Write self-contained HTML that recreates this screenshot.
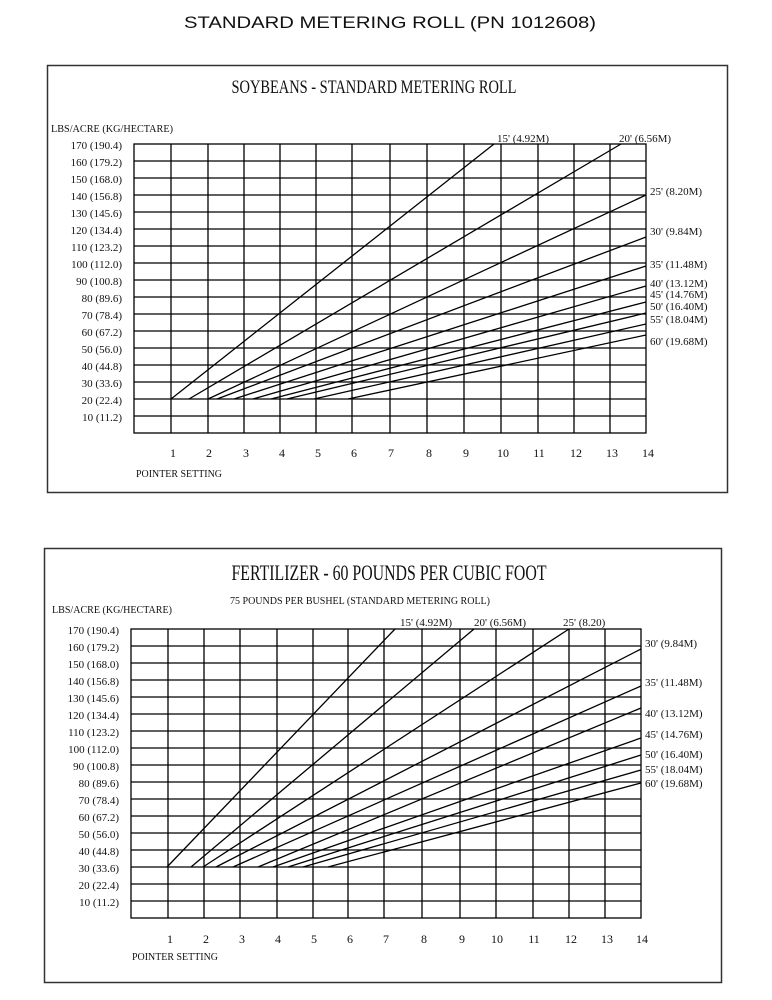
<!DOCTYPE html>
<html><head><meta charset="utf-8"><style>
html,body{margin:0;padding:0;background:#fff;}
svg{display:block;}
text{font-family:"Liberation Serif",serif;fill:#111;}
</style></head><body>
<svg width="772" height="1000" viewBox="0 0 772 1000" xmlns="http://www.w3.org/2000/svg">
<text x="390" y="28" text-anchor="middle" style="font-family:'Liberation Sans',sans-serif;font-size:17px" textLength="412" lengthAdjust="spacingAndGlyphs">STANDARD METERING ROLL  (PN  1012608)</text>

<!-- TOP CHART -->
<rect x="47.5" y="65.5" width="680" height="427" fill="none" stroke="#333" stroke-width="1.5"/>
<text x="374" y="93" text-anchor="middle" font-size="19" textLength="285" lengthAdjust="spacingAndGlyphs">SOYBEANS - STANDARD METERING ROLL</text>
<text x="51" y="132" font-size="11" textLength="122" lengthAdjust="spacingAndGlyphs">LBS/ACRE (KG/HECTARE)</text>
<g stroke="#000" stroke-width="1.3" fill="none">
<rect x="134" y="144" width="512" height="289"/>
<path d="M134 161H646M134 178H646M134 195H646M134 212H646M134 229H646M134 246H646M134 263H646M134 280H646M134 297H646M134 314H646M134 331H646M134 348H646M134 365H646M134 382H646M134 399H646M134 416H646"/>
<path d="M171 144V433M208 144V433M244 144V433M280 144V433M316 144V433M352 144V433M390 144V433M427 144V433M464 144V433M501 144V433M538 144V433M574 144V433M610 144V433"/>
<path d="M171 399L494 144M189 399L621 144M208 399L646 195M217 399L646 237M234 399L646 266M253 399L646 286M271 399L646 302M287 399L646 313M314 399L646 324M348 399L646 335"/>
</g>
<g font-size="11" text-anchor="end">
<text x="122" y="149">170 (190.4)</text><text x="122" y="166">160 (179.2)</text><text x="122" y="183">150 (168.0)</text><text x="122" y="200">140 (156.8)</text><text x="122" y="217">130 (145.6)</text><text x="122" y="234">120 (134.4)</text><text x="122" y="251">110 (123.2)</text><text x="122" y="268">100 (112.0)</text><text x="122" y="285">90 (100.8)</text><text x="122" y="302">80 (89.6)</text><text x="122" y="319">70 (78.4)</text><text x="122" y="336">60 (67.2)</text><text x="122" y="353">50 (56.0)</text><text x="122" y="370">40 (44.8)</text><text x="122" y="387">30 (33.6)</text><text x="122" y="404">20 (22.4)</text><text x="122" y="421">10 (11.2)</text>
</g>
<g font-size="12" text-anchor="middle">
<text x="173" y="457">1</text><text x="209" y="457">2</text><text x="246" y="457">3</text><text x="282" y="457">4</text><text x="318" y="457">5</text><text x="354" y="457">6</text><text x="391" y="457">7</text><text x="429" y="457">8</text><text x="466" y="457">9</text><text x="503" y="457">10</text><text x="539" y="457">11</text><text x="576" y="457">12</text><text x="612" y="457">13</text><text x="648" y="457">14</text>
</g>
<text x="136" y="477" font-size="11" textLength="86" lengthAdjust="spacingAndGlyphs">POINTER SETTING</text>
<g font-size="11">
<text x="497" y="142">15' (4.92M)</text><text x="619" y="142">20' (6.56M)</text>
<text x="650" y="195">25' (8.20M)</text><text x="650" y="235">30' (9.84M)</text><text x="650" y="268">35' (11.48M)</text><text x="650" y="287">40' (13.12M)</text><text x="650" y="298">45' (14.76M)</text><text x="650" y="310">50' (16.40M)</text><text x="650" y="323">55' (18.04M)</text><text x="650" y="345">60' (19.68M)</text>
</g>

<!-- BOTTOM CHART -->
<rect x="44.5" y="548.5" width="677" height="434" fill="none" stroke="#333" stroke-width="1.5"/>
<text x="389" y="580" text-anchor="middle" font-size="22" textLength="315" lengthAdjust="spacingAndGlyphs">FERTILIZER - 60 POUNDS PER CUBIC FOOT</text>
<text x="230" y="604" font-size="10" textLength="260" lengthAdjust="spacingAndGlyphs">75 POUNDS PER BUSHEL (STANDARD METERING ROLL)</text>
<text x="52" y="613" font-size="11" textLength="120" lengthAdjust="spacingAndGlyphs">LBS/ACRE (KG/HECTARE)</text>
<g stroke="#000" stroke-width="1.3" fill="none">
<rect x="131" y="629" width="510" height="289"/>
<path d="M131 646H641M131 663H641M131 680H641M131 697H641M131 714H641M131 731H641M131 748H641M131 765H641M131 782H641M131 799H641M131 816H641M131 833H641M131 850H641M131 867H641M131 884H641M131 901H641"/>
<path d="M168 629V918M204 629V918M240 629V918M277 629V918M313 629V918M348 629V918M384 629V918M422 629V918M460 629V918M496 629V918M533 629V918M569 629V918M605 629V918"/>
<path d="M167 867L395 629M191 867L474 629M203 867L569 629M216 867L641 649M233 867L641 686M258 867L641 708M273 867L641 738M288 867L641 755M303 867L641 770M328 867L641 783"/>
</g>
<g font-size="11" text-anchor="end">
<text x="119" y="634">170 (190.4)</text><text x="119" y="651">160 (179.2)</text><text x="119" y="668">150 (168.0)</text><text x="119" y="685">140 (156.8)</text><text x="119" y="702">130 (145.6)</text><text x="119" y="719">120 (134.4)</text><text x="119" y="736">110 (123.2)</text><text x="119" y="753">100 (112.0)</text><text x="119" y="770">90 (100.8)</text><text x="119" y="787">80 (89.6)</text><text x="119" y="804">70 (78.4)</text><text x="119" y="821">60 (67.2)</text><text x="119" y="838">50 (56.0)</text><text x="119" y="855">40 (44.8)</text><text x="119" y="872">30 (33.6)</text><text x="119" y="889">20 (22.4)</text><text x="119" y="906">10 (11.2)</text>
</g>
<g font-size="12" text-anchor="middle">
<text x="170" y="943">1</text><text x="206" y="943">2</text><text x="242" y="943">3</text><text x="278" y="943">4</text><text x="314" y="943">5</text><text x="350" y="943">6</text><text x="386" y="943">7</text><text x="424" y="943">8</text><text x="462" y="943">9</text><text x="497" y="943">10</text><text x="534" y="943">11</text><text x="571" y="943">12</text><text x="607" y="943">13</text><text x="642" y="943">14</text>
</g>
<text x="132" y="960" font-size="11" textLength="86" lengthAdjust="spacingAndGlyphs">POINTER SETTING</text>
<g font-size="11">
<text x="400" y="626">15' (4.92M)</text><text x="474" y="626">20' (6.56M)</text><text x="563" y="626">25' (8.20)</text>
<text x="645" y="647">30' (9.84M)</text><text x="645" y="686">35' (11.48M)</text><text x="645" y="717">40' (13.12M)</text><text x="645" y="738">45' (14.76M)</text><text x="645" y="758">50' (16.40M)</text><text x="645" y="773">55' (18.04M)</text><text x="645" y="787">60' (19.68M)</text>
</g>
</svg>
</body></html>
